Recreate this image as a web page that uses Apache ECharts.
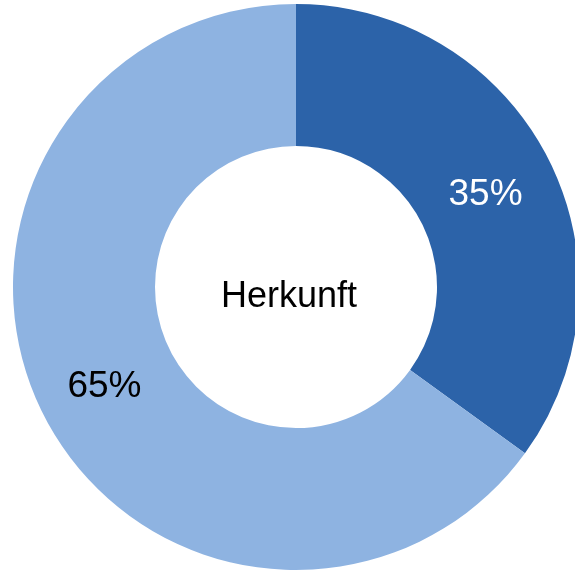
<!DOCTYPE html>
<html>
<head>
<meta charset="utf-8">
<script src="https://cdn.jsdelivr.net/npm/echarts@6/dist/echarts.min.js"></script>
<style>
html,body{margin:0;padding:0;background:#fff;}
#main{width:575px;height:574px;}
</style>
</head>
<body>
<div id="main"></div>
<script>
var categories = ['A', 'B'];
var values = [35, 65];
var sliceColors = ['#2C63A9', '#8EB3E1'];
var labelColors = ['#ffffff', '#000000'];
var centerText = 'Herkunft';

var labelShift = [[-2, 5], [0, 2]];
var chart = echarts.init(document.getElementById('main'), null, {renderer: 'canvas'});
var data = categories.map(function (c, i) {
  return {
    name: c,
    value: values[i],
    itemStyle: {color: sliceColors[i]},
    label: {color: labelColors[i]}
  };
});
chart.setOption({
  animation: false,
  backgroundColor: '#ffffff',
  graphic: [{
    type: 'text',
    x: 289,
    y: 297,
    style: {
      text: centerText,
      x: 0, y: 0,
      fill: '#000000',
      font: '36px "Liberation Sans", Arial, sans-serif',
      textAlign: 'center',
      textVerticalAlign: 'middle'
    }
  }],
  series: [{
    type: 'pie',
    center: [296, 287],
    radius: [141, 283],
    startAngle: 90,
    clockwise: true,
    silent: true,
    percentPrecision: 0,
    label: {
      show: true,
      position: 'inside',
      formatter: '{d}%',
      fontFamily: '"Liberation Sans", Arial, sans-serif',
      fontSize: 37
    },
    labelLayout: function (p) {
      var s = labelShift[p.dataIndex];
      return {dx: s[0], dy: s[1]};
    },
    labelLine: {show: false},
    emphasis: {disabled: true},
    data: data
  }]
});
</script>
</body>
</html>
